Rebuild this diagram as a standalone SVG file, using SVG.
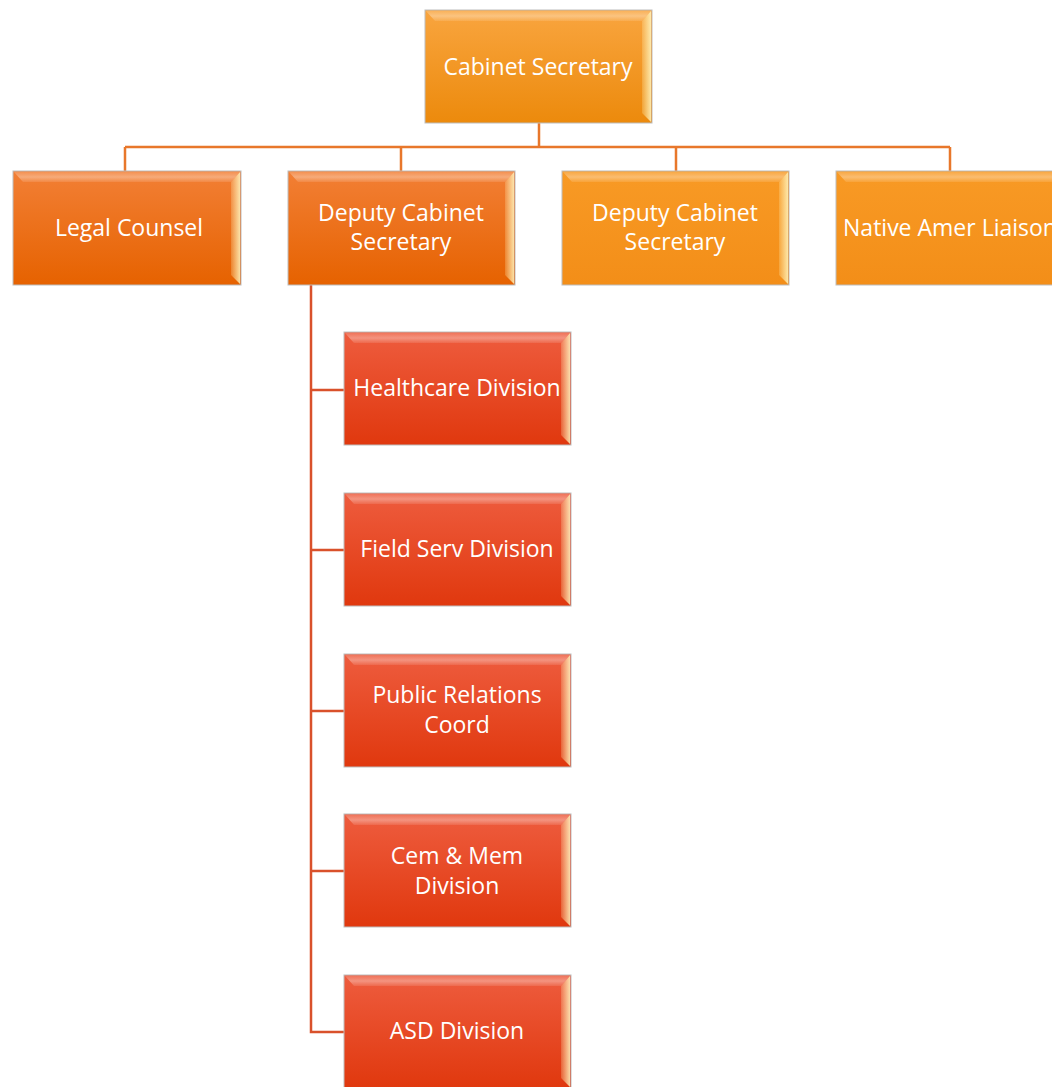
<svg xmlns="http://www.w3.org/2000/svg" width="1052" height="1087" viewBox="0 0 1052 1087">
<defs>
<linearGradient id="gTop" x1="0" y1="0" x2="0" y2="1"><stop offset="0" stop-color="#F9A53F"/><stop offset="1" stop-color="#EC8A0C"/></linearGradient>
<linearGradient id="gDark" x1="0" y1="0" x2="0" y2="1"><stop offset="0" stop-color="#F27F35"/><stop offset="1" stop-color="#E66200"/></linearGradient>
<linearGradient id="gLight" x1="0" y1="0" x2="0" y2="1"><stop offset="0" stop-color="#F89A25"/><stop offset="1" stop-color="#F38E18"/></linearGradient>
<linearGradient id="gRed" x1="0" y1="0" x2="0" y2="1"><stop offset="0" stop-color="#EE5C3E"/><stop offset="1" stop-color="#E0380E"/></linearGradient>
<linearGradient id="hl" x1="0" y1="0" x2="0" y2="1"><stop offset="0" stop-color="#FFFFFF" stop-opacity="0.15"/><stop offset="0.5" stop-color="#FFFFFF" stop-opacity="0.35"/><stop offset="1" stop-color="#FFFFFF" stop-opacity="0.1"/></linearGradient>
<linearGradient id="rh" x1="0" y1="0" x2="1" y2="0"><stop offset="0" stop-color="#FFF6C0" stop-opacity="0.2"/><stop offset="1" stop-color="#FFF6C0" stop-opacity="0.85"/></linearGradient>
</defs>
<style>
.box{stroke:#BDBDBD;stroke-width:1}
.t{font-family:"Open Sans","Noto Sans",sans-serif;font-size:23px;fill:#FFFFFF;text-anchor:middle}
.c1{fill:none;stroke:#E8772B;stroke-width:2.5}
.c2{fill:none;stroke:#D9512B;stroke-width:2.5}
</style>
<g id="connectors">
<path class="c1" d="M539,123 V147 M125,147 H950 M125,147 V171 M401,147 V171 M676,147 V171 M950,147 V171"/>
<path class="c2" d="M311,285 V1032 H344 M311,390 H344 M311,550 H344 M311,711 H344 M311,871 H344"/>
</g>
<g id="cabinet-secretary">
<rect class="box" x="425" y="10" width="227" height="113" fill="url(#gTop)"/>
<polygon points="426,11 651,11 642,21 435,21" fill="url(#hl)"/>
<polygon points="651,11 651,122 642,113 642,21" fill="url(#rh)"/>
<text class="t" x="538" y="75">Cabinet Secretary</text>
</g>
<g id="legal-counsel">
<rect class="box" x="13" y="171" width="228" height="114" fill="url(#gDark)"/>
<polygon points="14,172 240,172 231,182 23,182" fill="url(#hl)"/>
<polygon points="240,172 240,284 231,275 231,182" fill="url(#rh)"/>
<text class="t" x="129" y="236">Legal Counsel</text>
</g>
<g id="deputy-1">
<rect class="box" x="288" y="171" width="227" height="114" fill="url(#gDark)"/>
<polygon points="289,172 514,172 505,182 298,182" fill="url(#hl)"/>
<polygon points="514,172 514,284 505,275 505,182" fill="url(#rh)"/>
<text class="t" x="401" y="221">Deputy Cabinet</text>
<text class="t" x="401" y="250">Secretary</text>
</g>
<g id="deputy-2">
<rect class="box" x="562" y="171" width="227" height="114" fill="url(#gLight)"/>
<polygon points="563,172 788,172 779,182 572,182" fill="url(#hl)"/>
<polygon points="788,172 788,284 779,275 779,182" fill="url(#rh)"/>
<text class="t" x="675" y="221">Deputy Cabinet</text>
<text class="t" x="675" y="250">Secretary</text>
</g>
<g id="native-amer-liaison">
<rect class="box" x="836" y="171" width="228" height="114" fill="url(#gLight)"/>
<polygon points="837,172 1063,172 1054,182 846,182" fill="url(#hl)"/>
<text class="t" x="950" y="236">Native Amer Liaison</text>
</g>
<g id="healthcare-division">
<rect class="box" x="344" y="332" width="227" height="113" fill="url(#gRed)"/>
<polygon points="345,333 570,333 561,343 354,343" fill="url(#hl)"/>
<polygon points="570,333 570,444 561,435 561,343" fill="url(#rh)"/>
<text class="t" x="457" y="396">Healthcare Division</text>
</g>
<g id="field-serv-division">
<rect class="box" x="344" y="493" width="227" height="113" fill="url(#gRed)"/>
<polygon points="345,494 570,494 561,504 354,504" fill="url(#hl)"/>
<polygon points="570,494 570,605 561,596 561,504" fill="url(#rh)"/>
<text class="t" x="457" y="557">Field Serv Division</text>
</g>
<g id="public-relations-coord">
<rect class="box" x="344" y="654" width="227" height="113" fill="url(#gRed)"/>
<polygon points="345,655 570,655 561,665 354,665" fill="url(#hl)"/>
<polygon points="570,655 570,766 561,757 561,665" fill="url(#rh)"/>
<text class="t" x="457" y="703">Public Relations</text>
<text class="t" x="457" y="733">Coord</text>
</g>
<g id="cem-mem-division">
<rect class="box" x="344" y="814" width="227" height="113" fill="url(#gRed)"/>
<polygon points="345,815 570,815 561,825 354,825" fill="url(#hl)"/>
<polygon points="570,815 570,926 561,917 561,825" fill="url(#rh)"/>
<text class="t" x="457" y="864">Cem &amp; Mem</text>
<text class="t" x="457" y="894">Division</text>
</g>
<g id="asd-division">
<rect class="box" x="344" y="975" width="227" height="113" fill="url(#gRed)"/>
<polygon points="345,976 570,976 561,986 354,986" fill="url(#hl)"/>
<polygon points="570,976 570,1087 561,1078 561,986" fill="url(#rh)"/>
<text class="t" x="457" y="1039">ASD Division</text>
</g>
</svg>
